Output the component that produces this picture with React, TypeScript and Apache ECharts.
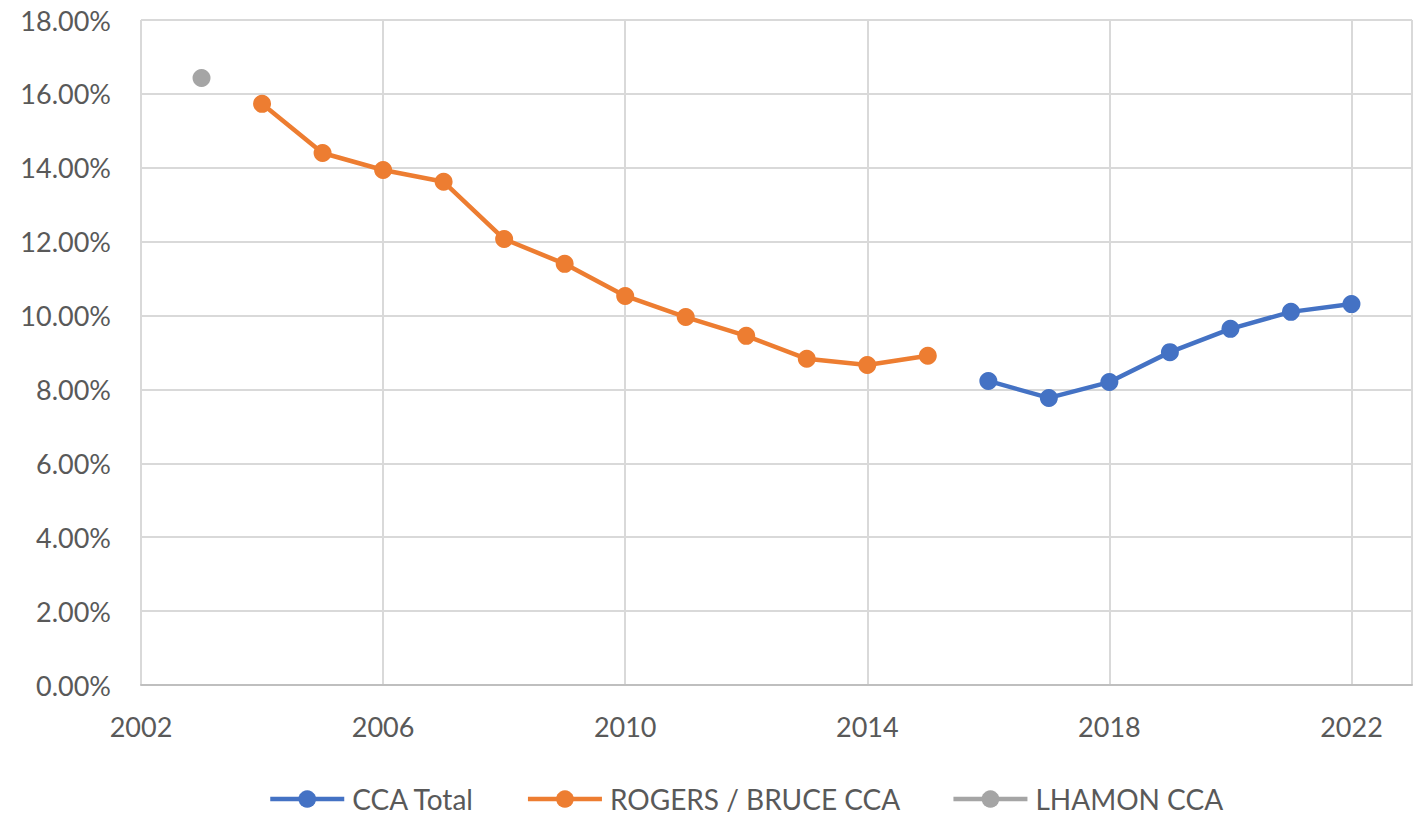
import React, { useEffect, useRef } from "react";
import * as echarts from "echarts";

const lhamonYears = [2003];
const lhamonValues = [16.43];
const rogersYears = [2004, 2005, 2006, 2007, 2008, 2009, 2010, 2011, 2012, 2013, 2014, 2015];
const rogersValues = [15.73, 14.4, 13.94, 13.62, 12.07, 11.4, 10.53, 9.96, 9.45, 8.83, 8.66, 8.91];
const totalYears = [2016, 2017, 2018, 2019, 2020, 2021, 2022];
const totalValues = [8.23, 7.77, 8.2, 9.01, 9.64, 10.1, 10.31];

const FONT = "Lato, 'Open Sans', sans-serif";

export default function App() {
  const ref = useRef<HTMLDivElement>(null);
  useEffect(() => {
    if (!ref.current) return;
    const chart = echarts.init(ref.current, undefined, { renderer: "svg" });
    const mk = (ys: number[], vs: number[]) => ys.map((y, i) => [y, vs[i]]);
    const series = (name: string, color: string, data: number[][]) => ({
      name,
      type: "line",
      data,
      symbol: "circle",
      symbolSize: 18,
      itemStyle: { color },
      lineStyle: { color, width: 4.5 },
      z: 3,
    });
    chart.setOption({
      animation: false,
      backgroundColor: "#ffffff",
      grid: { left: 141, right: 2, top: 20, bottom: 134, containLabel: false },
      xAxis: {
        type: "value",
        min: 2002,
        max: 2023,
        interval: 4,
        axisLine: { show: true, lineStyle: { color: "#bfbfbf", width: 2 } },
        axisTick: { show: false },
        axisLabel: {
          color: "#595959",
          fontSize: 27,
          fontFamily: FONT,
          margin: 28,
          showMaxLabel: false,
          formatter: (v: number) => String(v),
        },
        splitLine: { show: true, lineStyle: { color: "#d9d9d9", width: 2 } },
      },
      yAxis: {
        type: "value",
        min: 0,
        max: 18,
        interval: 2,
        axisLine: { show: false },
        axisTick: { show: false },
        axisLabel: {
          color: "#595959",
          fontSize: 27,
          fontFamily: FONT,
          margin: 30,
          formatter: (v: number) => v.toFixed(2) + "%",
        },
        splitLine: { show: true, lineStyle: { color: "#d9d9d9", width: 2 } },
      },
      legend: {
        bottom: 1,
        left: 263,
        itemWidth: 74,
        itemHeight: 22,
        itemGap: 51,
        lineStyle: { width: 4.5 },
        textStyle: { color: "#595959", fontSize: 28, fontFamily: FONT, padding: [0, 0, 0, 3] },
        data: ["CCA Total", "ROGERS / BRUCE CCA", "LHAMON CCA"],
      },
      series: [
        series("CCA Total", "#4472c4", mk(totalYears, totalValues)),
        series("ROGERS / BRUCE CCA", "#ed7d31", mk(rogersYears, rogersValues)),
        series("LHAMON CCA", "#a5a5a5", mk(lhamonYears, lhamonValues)),
      ],
    });
    return () => chart.dispose();
  }, []);
  return (
    <div
      ref={ref}
      style={{ position: "fixed", left: 0, top: 0, width: 1414, height: 819, background: "#fff" }}
    />
  );
}
